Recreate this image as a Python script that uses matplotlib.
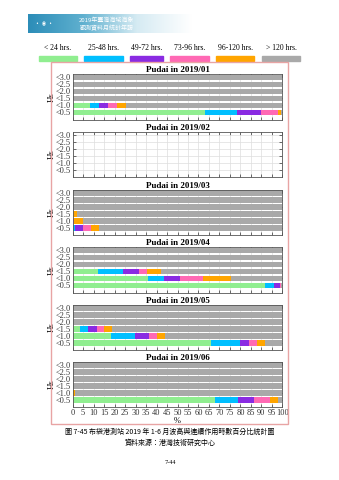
import numpy as np
import matplotlib
matplotlib.use("Agg")
import matplotlib.pyplot as plt
from matplotlib.patches import Rectangle

W, H = 339, 480

# duration classes (legend) and colours
classes = ["< 24 hrs.", "25-48 hrs.", "49-72 hrs.", "73-96 hrs.", "96-120 hrs.", "> 120 hrs."]
colors = ["#90EE90", "#00BFFF", "#8A2BE2", "#FF69B4", "#FFA500", "#A9A9A9"]
hs_levels = [0.5, 1.0, 1.5, 2.0, 2.5, 3.0]
hs_labels = ["<0.5", "<1.0", "<1.5", "<2.0", "<2.5", "<3.0"]
months = ["2019/01", "2019/02", "2019/03", "2019/04", "2019/05", "2019/06"]

# percent per class, rows ordered <0.5 ... <3.0
jan = [[63.1, 15.3, 11.3, 8.1, 1.7, 0.5],
       [8.3, 4.3, 4.3, 4.1, 4.4, 74.6],
       [0, 0, 0, 0, 0, 100],
       [0, 0, 0, 0, 0, 100],
       [0, 0, 0, 0, 0, 100],
       [0, 0, 0, 0, 0, 100]]
feb = [[0, 0, 0, 0, 0, 0]] * 6
mar = [[0, 1.1, 4.0, 3.5, 4.1, 87.3],
       [0, 0, 0, 0.8, 4.3, 94.9],
       [0, 0, 0, 0, 2.2, 97.8],
       [0, 0, 0, 0, 0, 100],
       [0, 0, 0, 0, 0, 100],
       [0, 0, 0, 0, 0, 100]]
apr = [[91.7, 4.5, 2.5, 0.8, 0, 0.5],
       [35.8, 7.8, 7.6, 11.1, 13.1, 24.6],
       [12.2, 11.6, 7.8, 4.0, 6.4, 58.0],
       [0, 0, 0, 0, 0, 100],
       [0, 0, 0, 0, 0, 100],
       [0, 0, 0, 0, 0, 100]]
may = [[66.0, 13.8, 4.1, 3.9, 4.1, 8.1],
       [18.3, 11.6, 6.7, 3.6, 4.0, 55.8],
       [3.5, 3.8, 4.1, 3.5, 3.7, 81.4],
       [0, 0, 0, 0, 0, 100],
       [0, 0, 0, 0, 0, 100],
       [0, 0, 0, 0, 0, 100]]
jun = [[67.9, 11.0, 7.6, 7.6, 4.0, 1.9],
       [0, 0, 0, 0, 1.3, 98.7],
       [0, 0, 0, 0, 0, 100],
       [0, 0, 0, 0, 0, 100],
       [0, 0, 0, 0, 0, 100],
       [0, 0, 0, 0, 0, 100]]
month_data = [jan, feb, mar, apr, may, jun]

SERIF = ["Liberation Serif", "DejaVu Serif"]
CJK = ["Noto Sans CJK TC", "DejaVu Sans"]


def box(x0, y0, x1, y1):
    return [x0 / W, 1 - y1 / H, (x1 - x0) / W, (y1 - y0) / H]


fig = plt.figure(figsize=(W / 100, H / 100), dpi=100)

# header banner
banner = fig.add_axes(box(28, 14, 192, 33))
grad = np.linspace(0, 1, 256)[None, :]
banner.imshow(grad, aspect="auto", cmap=matplotlib.colors.LinearSegmentedColormap.from_list(
    "b", ["#2C8DB8", "#5FB0CF", "#D6EBF3", "#FFFFFF"]), extent=[0, 1, 0, 1])
banner.set_axis_off()
banner.text(0.48, 0.68, "2019年臺灣海域海象", color="white", fontsize=4.3, family=CJK,
            ha="center", va="center", transform=banner.transAxes)
banner.text(0.48, 0.28, "觀測資料月統計年報", color="white", fontsize=4.3, family=CJK,
            ha="center", va="center", transform=banner.transAxes)
banner.text(0.1, 0.5, "•  ◉  •", color="white", fontsize=3.5, ha="center", va="center",
            transform=banner.transAxes)

# legend row
patch_x = [(39, 77), (84, 123), (130, 163), (170, 209), (216, 254), (262, 300)]
for (x0, x1), label, color in zip(patch_x, classes, colors):
    fig.patches.append(Rectangle((x0 / W, 1 - 60.5 / H), (x1 - x0) / W, 4.5 / H,
                                 transform=fig.transFigure, color=color))
    fig.text((x0 + x1) / 2 / W, 1 - 48 / H, label, ha="center", va="center",
             fontsize=5.5, family=SERIF)

# frame round the panels
fig.patches.append(Rectangle((50.7 / W, 1 - 424 / H), (288 - 50.7) / W, (424 - 62.3) / H,
                             transform=fig.transFigure, fill=False,
                             edgecolor="#E8A4A4", linewidth=1.0))

row3_y = [77.5, 135, 193, 250.5, 308, 365]
for i, (month, data) in enumerate(zip(months, month_data)):
    top = row3_y[i] - 3.1
    bottom = row3_y[i] + 42
    ax = fig.add_axes(box(72.7, top, 282.3, bottom))
    data = np.array(data, dtype=float)
    left = np.zeros(len(hs_levels))
    for k, color in enumerate(colors):
        ax.barh(hs_levels, data[:, k], left=left, height=0.42, color=color,
                linewidth=0, zorder=2)
        left += data[:, k]
    ax.set_xlim(0, 100)
    ax.set_ylim(0.0, 3.22)
    ax.set_xticks(np.arange(0, 101, 5))
    ax.set_yticks(hs_levels)
    ax.set_yticklabels(hs_labels, family=SERIF, fontsize=6)
    ax.grid(True, color="#DDDDDD", linewidth=0.5, zorder=0)
    ax.set_axisbelow(True)
    ax.tick_params(direction="in", length=2, width=0.5, top=True, right=True,
                   pad=1.5, colors="#333333")
    for s in ax.spines.values():
        s.set_linewidth(0.6)
        s.set_color("#555555")
    if i == len(months) - 1:
        ax.set_xticklabels([str(v) for v in range(0, 101, 5)], family=SERIF, fontsize=6)
        ax.set_xlabel("%", family=SERIF, fontsize=6, labelpad=0)
    else:
        ax.set_xticklabels([])
    ax.set_ylabel("Hs", family=SERIF, fontsize=6.5, labelpad=0)
    ax.set_title(f"Pudai in {month}", family=SERIF, fontsize=6.5, fontweight="bold", pad=1.5)

# caption
fig.text(170 / W, 1 - 432 / H, "圖 7-45 布袋港測站 2019 年 1-6 月波高與連續作用時數百分比統計圖",
         ha="center", va="center", fontsize=5, family=CJK)
fig.text(170 / W, 1 - 443 / H, "資料來源：港灣技術研究中心",
         ha="center", va="center", fontsize=5, family=CJK)
fig.text(170 / W, 1 - 462 / H, "7-44", ha="center", va="center", fontsize=4.5, family=SERIF)

fig.savefig("out.png", dpi=100)
